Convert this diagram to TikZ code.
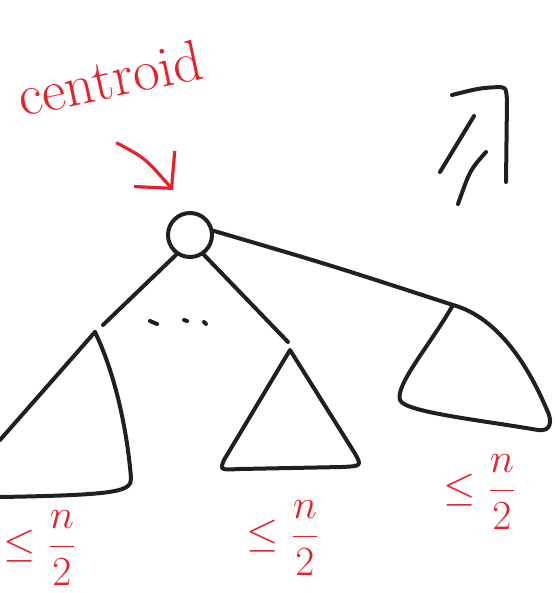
\documentclass[tikz,border=0pt]{standalone}
\usepackage{xcolor}
\usepackage{tikz}
\usetikzlibrary{arrows.meta, positioning}
\usepackage{amsmath}
\definecolor{ink}{HTML}{231F20}
\definecolor{pen}{HTML}{E4222B}

\begin{document}
\begin{tikzpicture}[
  x=0.5pt, y=-0.5pt,
  stroke/.style={draw=ink, line width=2pt, line cap=round, line join=round},
  redpen/.style={draw=pen, line width=1.6pt, line cap=round, line join=round},
  bound/.style={text=pen, inner sep=0pt, font=\fontsize{21}{21}\selectfont},
  arr/.style={-{Straight Barb[length=13pt, width=27pt, line width=1.6pt]}},
]
\useasboundingbox (0,0) rectangle (555,593);

\node[circle, stroke, minimum size=22pt, inner sep=0pt] (root) at (190,235) {};
\node[text=pen, inner sep=0pt, rotate=12, font=\fontsize{29}{29}\selectfont] (lbl) at (110,78) {centroid};
\coordinate (tipc) at (173,190);
\coordinate (tailc) at (117,143);
\draw[redpen, arr] (tailc) .. controls (145,158) .. (tipc);

\coordinate (lt) at (95,332);
\coordinate (mt) at (290,350);
\coordinate (rt) at (453,305);
\coordinate (lt-top) at (103,325);
\coordinate (mt-top) at (288,342);

\draw[stroke] (root.235) -- (lt-top);
\draw[stroke] (root.305) -- (mt-top);
\draw[stroke] (root.10) .. controls (330,265) .. (rt);

\draw[stroke] (150,321) -- (157,324);
\draw[stroke] (184,320) -- (187,321);
\draw[stroke] (204,322) -- (206,324);

\draw[stroke] (lt) -- (0,440);
\draw[stroke] (lt) .. controls (118,380) and (128,440) .. (131,478)
  .. controls (132,492) and (115,495) .. (0,497);

\draw[stroke] (mt) -- (224,460) .. controls (220,470) .. (240,469)
  -- (342,467) .. controls (362,466) .. (354,452) -- cycle;

\draw[stroke] (rt) .. controls (430,345) and (395,385) .. (400,400)
  .. controls (404,412) and (480,420) .. (538,430)
  .. controls (552,432) and (552,420) .. (547,410)
  .. controls (530,370) and (500,318) .. (rt);

\node[bound] (bl) at (40,548) {$\displaystyle\le\frac{n}{2}$};
\node[bound] (bm) at (283,538) {$\displaystyle\le\frac{n}{2}$};
\node[bound] (br) at (480,492) {$\displaystyle\le\frac{n}{2}$};

\draw[stroke] (452,95) .. controls (480,88) .. (500,87) .. controls (506,88) .. (507,100) -- (506,182);
\draw[stroke] (474,116) -- (440,172);
\draw[stroke] (486,152) .. controls (470,170) .. (458,204);
\end{tikzpicture}
\end{document}
